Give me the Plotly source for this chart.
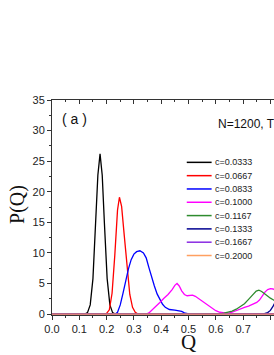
import plotly.graph_objects as go

# ---- data ----
labels = ["c=0.0333", "c=0.0667", "c=0.0833", "c=0.1000",
          "c=0.1167", "c=0.1333", "c=0.1667", "c=0.2000"]
colors = ["#000000", "#ff0000", "#0000ff", "#ff00ff",
          "#2e8b2e", "#000090", "#8a2be2", "#ffa060"]

q_a = [0.0, 0.12, 0.13, 0.14, 0.15, 0.16, 0.168, 0.176, 0.184, 0.192, 0.202, 0.212, 0.222, 0.232, 1.0]
p_a = [0.0, 0.0, 0.24, 1.5, 5.8, 14.8, 22.7, 26.2, 22.7, 14.8, 5.8, 1.5, 0.24, 0.0, 0.0]

q_b = [0.0, 0.19, 0.2, 0.21, 0.22, 0.23, 0.24, 0.247, 0.255, 0.265, 0.275, 0.285, 0.295, 0.305, 0.315, 1.0]
p_b = [0.0, 0.0, 0.1, 0.7, 3.4, 9.6, 17.0, 19.1, 17.6, 12.7, 7.2, 3.2, 1.1, 0.3, 0.0, 0.0]

q_c = [0.0, 0.232, 0.24, 0.25, 0.26, 0.27, 0.28, 0.29, 0.30, 0.31, 0.322, 0.335, 0.345, 0.355,
       0.365, 0.375, 0.385, 0.395, 0.405, 0.415, 0.43, 0.45, 0.465, 0.475, 0.485, 0.495, 0.505, 1.0]
p_c = [0.0, 0.0, 0.3, 1.5, 3.4, 5.5, 7.4, 8.9, 9.8, 10.2, 10.35, 10.0, 9.2, 7.6,
       6.0, 4.6, 3.3, 2.3, 1.6, 1.1, 0.75, 0.65, 0.6, 0.45, 0.2, 0.05, 0.0, 0.0]

q_d = [0.0, 0.345, 0.355, 0.365, 0.38, 0.395, 0.41, 0.425, 0.44, 0.45, 0.458, 0.466, 0.475, 0.485,
       0.495, 0.505, 0.515, 0.525, 0.54, 0.555, 0.57, 0.585, 0.6, 0.615, 0.63, 0.645, 0.66, 0.675,
       0.69, 0.705, 0.72, 0.735, 0.75, 0.76, 0.77, 0.78, 0.79, 0.80, 0.81, 0.82, 0.84, 0.86, 0.88,
       0.9, 0.92, 1.0]
p_d = [0.0, 0.0, 0.2, 0.6, 1.2, 1.9, 2.6, 3.2, 4.0, 4.7, 5.0, 4.6, 3.8, 3.2,
       3.0, 3.1, 3.1, 2.9, 2.4, 1.9, 1.4, 0.95, 0.55, 0.3, 0.15, 0.12, 0.3, 0.6,
       0.9, 1.1, 1.3, 1.6, 1.9, 2.3, 3.0, 3.6, 4.0, 4.15, 4.1, 3.8, 3.0, 1.8, 0.8,
       0.3, 0.0, 0.0]

q_e = [0.0, 0.6, 0.615, 0.63, 0.645, 0.66, 0.675, 0.69, 0.705, 0.72, 0.735, 0.748, 0.758, 0.768,
       0.78, 0.79, 0.80, 0.81, 0.82, 0.85, 0.9, 0.95, 1.0]
p_e = [0.0, 0.0, 0.05, 0.15, 0.3, 0.5, 0.8, 1.2, 1.7, 2.4, 3.2, 3.75, 3.9, 3.7,
       3.3, 2.9, 2.6, 2.35, 2.1, 1.2, 0.3, 0.0, 0.0]

q_f = [0.0, 0.76, 0.775, 0.79, 0.80, 0.81, 0.82, 0.84, 0.87, 0.9, 0.95, 1.0]
p_f = [0.0, 0.0, 0.05, 0.25, 0.6, 1.3, 2.2, 4.0, 6.0, 5.0, 1.0, 0.0]

q_g = [0.0, 0.85, 0.88, 0.91, 0.94, 0.97, 1.0]
p_g = [0.0, 0.0, 1.0, 4.0, 3.0, 0.5, 0.0]

q_h = [0.0, 0.9, 0.93, 0.96, 0.99, 1.0]
p_h = [0.0, 0.0, 1.0, 5.0, 2.0, 1.0]

series_q = [q_a, q_b, q_c, q_d, q_e, q_f, q_g, q_h]
series_p = [p_a, p_b, p_c, p_d, p_e, p_f, p_g, p_h]

x_ticks = [0.0, 0.1, 0.2, 0.3, 0.4, 0.5, 0.6, 0.7, 0.8, 0.9, 1.0]
y_ticks = [0, 5, 10, 15, 20, 25, 30, 35]

# ---- figure ----
fig = go.Figure()
for q, p, name, col in zip(series_q, series_p, labels, colors):
    fig.add_trace(go.Scatter(x=q, y=p, mode="lines", name=name,
                             line=dict(color=col, width=1.3), showlegend=False))

tick_font = dict(family="Liberation Sans, Arial, sans-serif", size=11, color="#222222")
x_range = [0.0, 0.8132]

fig.update_layout(
    width=274, height=355,
    margin=dict(l=52, r=0, t=100, b=40),
    plot_bgcolor="white", paper_bgcolor="white",
    xaxis=dict(range=x_range, tickvals=x_ticks, tickformat=".1f",
               ticks="outside", ticklen=4, tickcolor="#333", tickwidth=1,
               minor=dict(ticks="outside", ticklen=2, dtick=0.05, tickcolor="#333"),
               showline=True, linecolor="#333", linewidth=1,
               showgrid=False, zeroline=False, tickfont=tick_font),
    xaxis2=dict(range=x_range, overlaying="x", side="top", matches="x",
                tickvals=x_ticks, ticks="inside", ticklen=4, tickcolor="#333",
                minor=dict(ticks="inside", ticklen=2, dtick=0.05, tickcolor="#333"),
                showticklabels=False, showline=True, linecolor="#333", linewidth=1,
                showgrid=False, zeroline=False),
    yaxis=dict(range=[-0.15, 35], tickvals=y_ticks,
               ticks="outside", ticklen=4, tickcolor="#333", tickwidth=1,
               minor=dict(ticks="outside", ticklen=2, dtick=2.5, tickcolor="#333"),
               showline=True, linecolor="#333", linewidth=1,
               showgrid=False, zeroline=False, tickfont=tick_font),
)

# invisible trace so the top axis is drawn
fig.add_trace(go.Scatter(x=[0.0], y=[0.0], xaxis="x2", mode="markers",
                         marker=dict(opacity=0), showlegend=False, hoverinfo="skip"))

# axis titles and labels
fig.add_annotation(text="P(Q)", xref="paper", yref="paper", x=-0.153, y=0.512,
                   xanchor="center", yanchor="middle", textangle=-90, showarrow=False,
                   font=dict(family="Liberation Serif, Times New Roman, serif", size=20, color="#111"))
fig.add_annotation(text="Q", xref="x", yref="paper", x=0.5, y=-0.125,
                   xanchor="center", yanchor="middle", showarrow=False,
                   font=dict(family="Liberation Serif, Times New Roman, serif", size=21, color="#111"))
fig.add_annotation(text="( a )", xref="paper", yref="paper", x=0.034, y=0.912,
                   xanchor="left", yanchor="middle", showarrow=False,
                   font=dict(family="Liberation Sans, Arial, sans-serif", size=14, color="#111"))
fig.add_annotation(text="N=1200, T=0.5", xref="paper", yref="paper", x=0.739, y=0.888,
                   xanchor="left", yanchor="middle", showarrow=False,
                   font=dict(family="Liberation Sans, Arial, sans-serif", size=12, color="#111"))

# custom legend
x0, x1, xt = 0.607, 0.719, 0.724
y0, dy = 0.710, 0.0619
for i, (name, col) in enumerate(zip(labels, colors)):
    yy = y0 - i * dy
    fig.add_shape(type="line", xref="paper", yref="paper", x0=x0, x1=x1, y0=yy, y1=yy,
                  line=dict(color=col, width=1.5))
    fig.add_annotation(text=name, xref="paper", yref="paper", x=xt, y=yy,
                       xanchor="left", yanchor="middle", showarrow=False,
                       font=dict(family="Liberation Sans, Arial, sans-serif", size=9, color="#222"))

fig.write_html("out.html", config={"displayModeBar": False},
               post_script="document.body.style.margin='0';document.body.style.overflow='hidden';")
